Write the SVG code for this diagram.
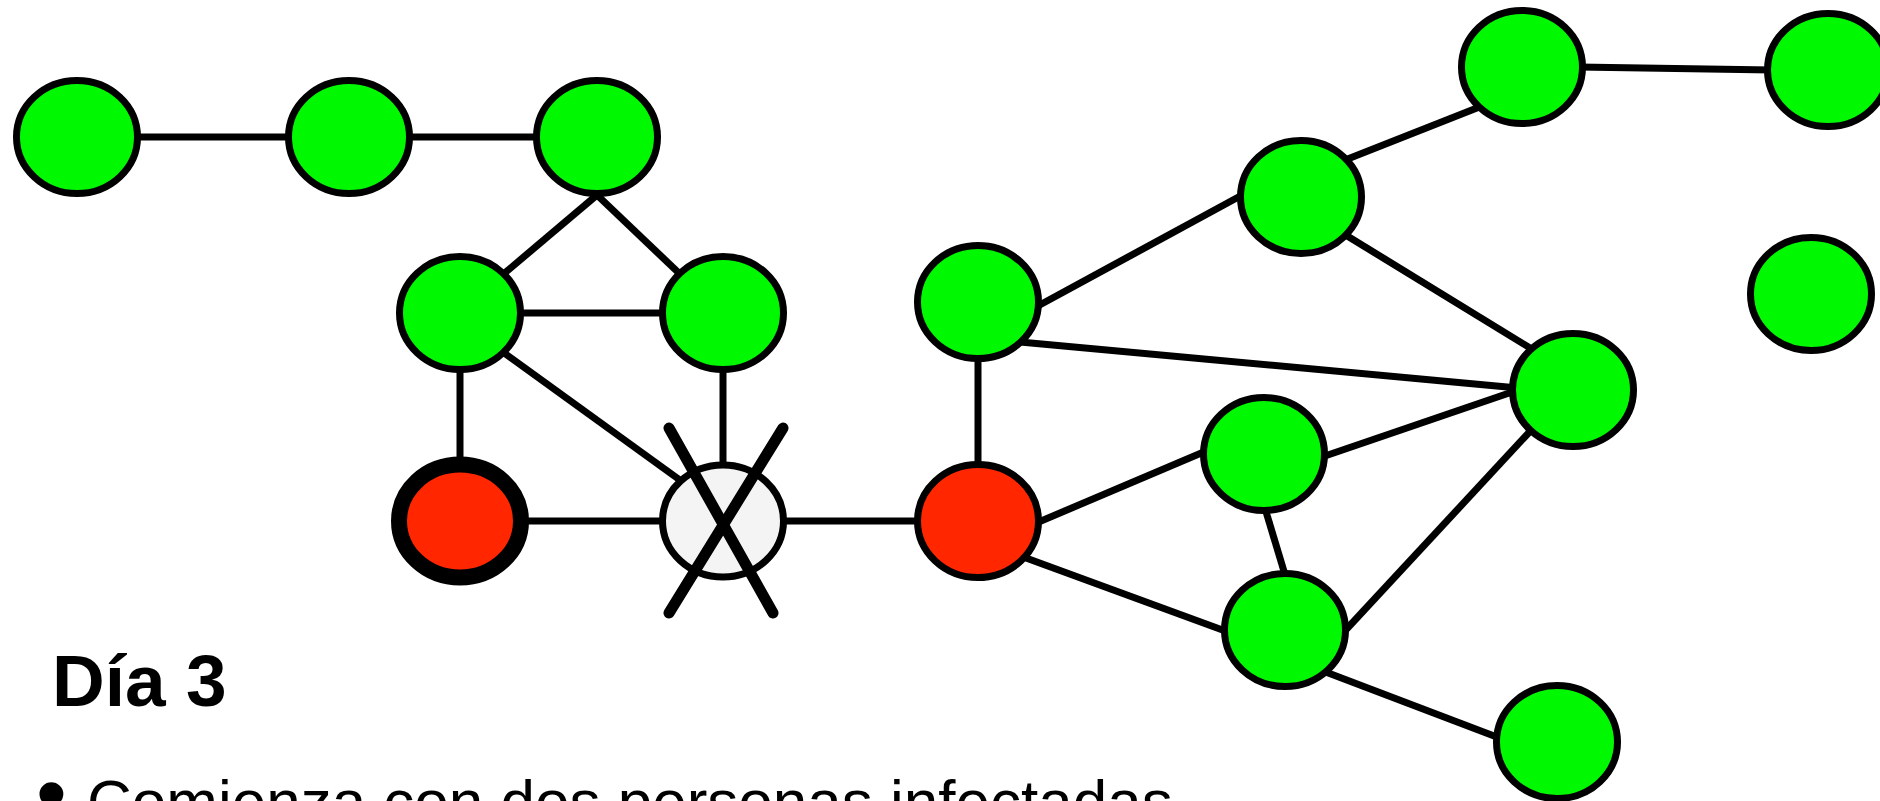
<svg xmlns="http://www.w3.org/2000/svg" width="1880" height="801" viewBox="0 0 1880 801">
<style>
.edge{stroke:#000;stroke-width:7;fill:none}
.node{stroke:#000;stroke-width:7}
.ok{fill:#00f800}
.inf{fill:#ff2600}
.rem{fill:#f4f4f4}
.cross{stroke:#000;stroke-width:11;stroke-linecap:round}
.title{font-family:"Liberation Sans",Arial,sans-serif;font-weight:bold;font-size:73px;fill:#000}
.body{font-family:"Liberation Sans",Arial,sans-serif;font-size:62px;fill:#000}
</style>
<rect width="1880" height="801" fill="#fff"/>
<g id="connectors">
<line class="edge" x1="130" y1="137" x2="296" y2="137"/>
<line class="edge" x1="402" y1="137" x2="544" y2="137"/>
<line class="edge" x1="597" y1="195" x2="500" y2="277"/>
<line class="edge" x1="597" y1="195" x2="682" y2="276"/>
<line class="edge" x1="515" y1="313" x2="668" y2="313"/>
<line class="edge" x1="460" y1="365" x2="460" y2="462"/>
<line class="edge" x1="500" y1="350" x2="684" y2="483"/>
<line class="edge" x1="723" y1="365" x2="723" y2="468"/>
<line class="edge" x1="520" y1="521" x2="668" y2="521"/>
<line class="edge" x1="778" y1="521" x2="924" y2="521"/>
<line class="edge" x1="978" y1="355" x2="978" y2="468"/>
<line class="edge" x1="1036" y1="307" x2="1244" y2="194"/>
<line class="edge" x1="1340" y1="162" x2="1482" y2="106"/>
<line class="edge" x1="1578" y1="67" x2="1772" y2="70"/>
<line class="edge" x1="1344" y1="234" x2="1535" y2="351"/>
<line class="edge" x1="1020" y1="342" x2="1518" y2="388"/>
<line class="edge" x1="1034" y1="524" x2="1206" y2="451"/>
<line class="edge" x1="1322" y1="457" x2="1518" y2="390"/>
<line class="edge" x1="1264" y1="505" x2="1286" y2="578"/>
<line class="edge" x1="1342" y1="634" x2="1535" y2="426"/>
<line class="edge" x1="1026" y1="558" x2="1228" y2="632"/>
<line class="edge" x1="1323" y1="671" x2="1502" y2="739"/>
</g>
<g id="nA"><ellipse class="node ok" cx="77" cy="137" rx="60.5" ry="56.5"/></g>
<g id="nB"><ellipse class="node ok" cx="349" cy="137" rx="60.5" ry="56.5"/></g>
<g id="nC"><ellipse class="node ok" cx="597" cy="137" rx="60.5" ry="56.5"/></g>
<g id="nD"><ellipse class="node ok" cx="460" cy="313" rx="60.5" ry="56.5"/></g>
<g id="nE"><ellipse class="node ok" cx="723" cy="313" rx="60.5" ry="56.5"/></g>
<g id="nF"><ellipse class="inf" cx="460" cy="521" rx="61" ry="56.5" stroke="#000" stroke-width="16"/></g>
<g id="nG"><ellipse class="node rem" cx="723" cy="521" rx="60.5" ry="56"/>
<line class="cross" x1="669" y1="428" x2="773" y2="613"/>
<line class="cross" x1="783" y1="428" x2="669" y2="613"/></g>
<g id="nH"><ellipse class="node inf" cx="978" cy="521" rx="60.5" ry="56.5"/></g>
<g id="nI"><ellipse class="node ok" cx="978" cy="302" rx="60.5" ry="56.5"/></g>
<g id="nJ"><ellipse class="node ok" cx="1301" cy="197" rx="60.5" ry="56.5"/></g>
<g id="nK"><ellipse class="node ok" cx="1522" cy="67" rx="60.5" ry="56.5"/></g>
<g id="nL"><ellipse class="node ok" cx="1828" cy="70" rx="60.5" ry="56.5"/></g>
<g id="nM"><ellipse class="node ok" cx="1811" cy="294" rx="60.5" ry="56.5"/></g>
<g id="nN"><ellipse class="node ok" cx="1573" cy="390" rx="60.5" ry="56.5"/></g>
<g id="nO"><ellipse class="node ok" cx="1264" cy="454" rx="60.5" ry="56.5"/></g>
<g id="nP"><ellipse class="node ok" cx="1285" cy="630" rx="60.5" ry="56.5"/></g>
<g id="nQ"><ellipse class="node ok" cx="1557" cy="742" rx="60.5" ry="56.5"/></g>
<g id="text">
<text class="title" x="52" y="706">Día 3</text>
<text class="body" x="36" y="823" style="font-size:88px">•</text>
<text class="body" x="87" y="823">Comienza con dos personas infectadas</text>
</g>
</svg>
